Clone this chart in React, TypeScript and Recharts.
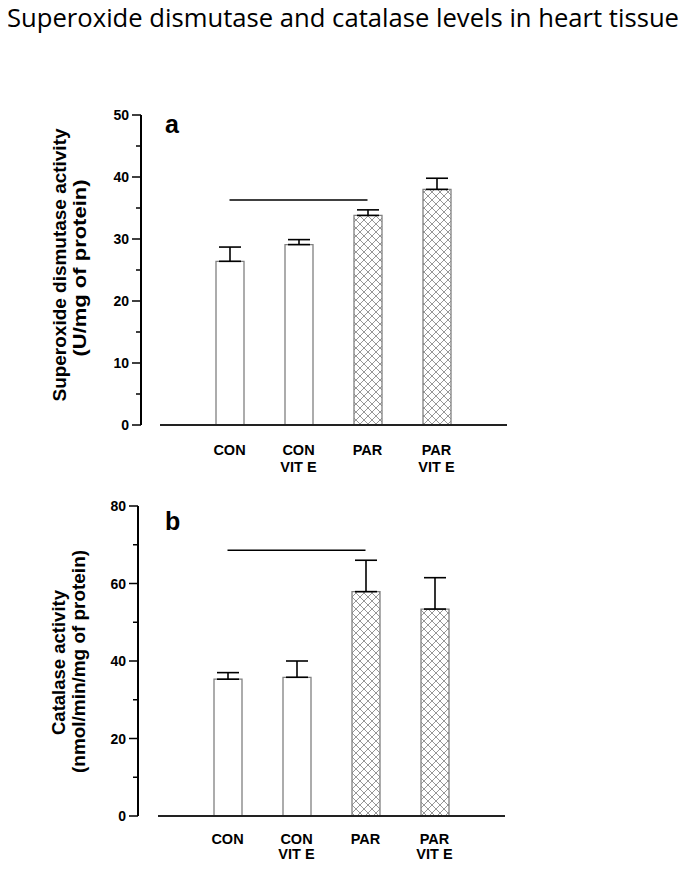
import React from 'react';
import { BarChart, Bar, XAxis, YAxis, ErrorBar, Cell, ReferenceLine } from 'recharts';

const categories = ['CON', 'CON\nVIT E', 'PAR', 'PAR\nVIT E'];
const sodMean = [26.4, 29.1, 33.8, 38.0];
const sodSem = [2.3, 0.8, 0.9, 1.8];
const catMean = [35.3, 35.8, 57.9, 53.4];
const catSem = [1.7, 4.2, 8.1, 8.1];
const sodTicks = [0, 5, 10, 15, 20, 25, 30, 35, 40, 45, 50];
const catTicks = [0, 10, 20, 30, 40, 50, 60, 70, 80];
const sodSig = 36.3;
const catSig = 68.6;
const sigFrom = 'CON';
const sigTo = 'PAR';

const sodData = categories.map((c, i) => ({ cat: c, mean: sodMean[i], err: [0, sodSem[i]] }));
const catData = categories.map((c, i) => ({ cat: c, mean: catMean[i], err: [0, catSem[i]] }));

const FONT = '"Liberation Sans", Arial, sans-serif';

const makeYTick = (shift: number, majorStep: number) => (props: any) => {
  const { x, y, payload } = props;
  const v = payload.value;
  const major = v % majorStep === 0;
  return (
    <g>
      <line x1={x - shift} x2={x - shift - (major ? 9 : 5)} y1={y} y2={y} stroke="#000" strokeWidth={1.5} />
      {major && (
        <text x={x - shift - 12} y={y} dy={5} textAnchor="end" fontFamily={FONT} fontWeight="bold" fontSize={14} fill="#000">
          {v}
        </text>
      )}
    </g>
  );
};

const makeXTick = (dy1: number, dy2: number) => (props: any) => {
  const { x, y, payload } = props;
  const lines = String(payload.value).split('\n');
  return (
    <text x={x} y={y} textAnchor="middle" fontFamily={FONT} fontWeight="bold" fontSize={14.5} fill="#000">
      {lines.map((l, i) => (
        <tspan key={i} x={x} dy={i === 0 ? dy1 : dy2}>{l}</tspan>
      ))}
    </text>
  );
};

const fillFor = (c: string) => (c.startsWith('PAR') ? 'url(#hatch)' : '#ffffff');

function Panel({ data, ticks, max, majorStep, sig, shift, marginTop, height, xAxisHeight, left, right, dy1, dy2 }: any) {
  return (
    <BarChart
      width={690}
      height={height}
      data={data}
      margin={{ top: marginTop, right: right, bottom: 0, left: 0 }}
      barSize={28}
    >
      <XAxis
        dataKey="cat"
        type="category"
        height={xAxisHeight}
        padding={{ left: 35, right: 36 }}
        axisLine={{ stroke: '#222', strokeWidth: 2 }}
        tickLine={false}
        tickSize={0}
        tickMargin={0}
        tick={makeXTick(dy1, dy2)}
        interval={0}
      />
      <YAxis
        type="number"
        domain={[0, max]}
        ticks={ticks}
        width={left}
        axisLine={{ stroke: '#000', strokeWidth: 2, transform: `translate(${-shift},0)` }}
        tickLine={false}
        tickSize={0}
        tickMargin={0}
        tick={makeYTick(shift, majorStep)}
        interval={0}
      />
      <Bar dataKey="mean" stroke="#808080" strokeWidth={1.3} isAnimationActive={false}>
        {data.map((d: any, i: number) => (
          <Cell key={i} fill={fillFor(d.cat)} />
        ))}
        <ErrorBar dataKey="err" width={11} stroke="#000" strokeWidth={1.6} direction="y" isAnimationActive={false} />
      </Bar>
      <ReferenceLine
        segment={[{ x: sigFrom, y: sig }, { x: sigTo, y: sig }]}
        stroke="#000"
        strokeWidth={1.5}
        ifOverflow="visible"
      />
    </BarChart>
  );
}

export default function App() {
  return (
    <div style={{ position: 'relative', width: 674, height: 853 }}>
      <div style={{ position: 'absolute', left: -8, top: -8, width: 690, height: 869, background: '#fff' }}>
        <svg width={0} height={0} style={{ position: 'absolute' }}>
          <defs>
            <pattern id="hatch" patternUnits="userSpaceOnUse" width={8} height={8}>
              <rect width={8} height={8} fill="#fff" />
              <path d="M0,0 L8,8 M8,0 L0,8" stroke="#6a6a6a" strokeWidth={0.7} />
            </pattern>
          </defs>
        </svg>
        <div style={{ position: 'absolute', left: 0, top: 0 }}>
          <Panel data={sodData} ticks={sodTicks} max={50} majorStep={10} sig={sodSig} shift={19}
            marginTop={115} height={480} xAxisHeight={55} left={160} right={183} dy1={30} dy2={16.5} />
        </div>
        <div style={{ position: 'absolute', left: 0, top: 429 }}>
          <Panel data={catData} ticks={catTicks} max={80} majorStep={20} sig={catSig} shift={20}
            marginTop={77} height={432} xAxisHeight={45} left={158} right={185} dy1={28} dy2={15} />
        </div>
        <svg width={690} height={869} style={{ position: 'absolute', left: 0, top: 0, pointerEvents: 'none' }}>
          <text x={7} y={26.7} fontFamily='"Open Sans", sans-serif' fontSize={25.6} fill="#000" textLength={672} lengthAdjust="spacingAndGlyphs">
            Superoxide dismutase and catalase levels in heart tissue
          </text>
          <text x={165} y={133} fontFamily={FONT} fontWeight="bold" fontSize={25} fill="#000">a</text>
          <text x={165} y={530} fontFamily={FONT} fontWeight="bold" fontSize={25} fill="#000">b</text>
          <g fontFamily={FONT} fontWeight="bold" fontSize={18.5} fill="#000">
            <text transform="translate(66,265) rotate(-90)" textAnchor="middle" textLength={273} lengthAdjust="spacingAndGlyphs">Superoxide dismutase activity</text>
            <text transform="translate(86,268) rotate(-90)" textAnchor="middle" textLength={177} lengthAdjust="spacingAndGlyphs">(U/mg of protein)</text>
            <text transform="translate(65,662.5) rotate(-90)" textAnchor="middle" textLength={145} lengthAdjust="spacingAndGlyphs">Catalase activity</text>
            <text transform="translate(84.5,661.5) rotate(-90)" textAnchor="middle" textLength={223} lengthAdjust="spacingAndGlyphs">(nmol/min/mg of protein)</text>
          </g>
        </svg>
      </div>
    </div>
  );
}
